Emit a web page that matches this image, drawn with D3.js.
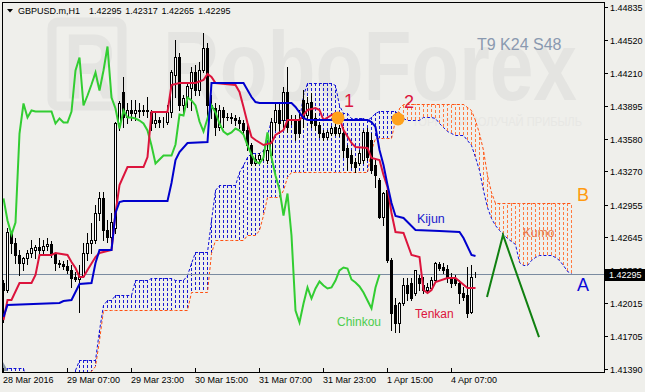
<!DOCTYPE html>
<html><head><meta charset="utf-8">
<script src="https://cdn.jsdelivr.net/npm/d3@7"></script>
<style>body{margin:0;background:#efefeb}svg{display:block}</style>
</head><body>
<svg id="c" width="645" height="392"></svg>
<script>
// ---------- DATA ----------
const symbolText = "GBPUSD.m,H1";
const indicatorText = "T9 K24 S48";
const timeLabels = ["28 Mar 2016","29 Mar 07:00","29 Mar 23:00","30 Mar 15:00","31 Mar 07:00","31 Mar 23:00","1 Apr 15:00","4 Apr 07:00"];
const timeLabelBars = [0,16,32,48,64,80,96,112];
const priceTicks = [1.44835,1.44520,1.44210,1.43895,1.43580,1.43270,1.42955,1.42645,1.42330,1.42015,1.41705,1.41390];
const lastPrice = 1.42295;

const open = [1.42208,1.42141,1.42693,1.42589,1.42474,1.42398,1.42446,1.42493,1.42522,1.42551,
1.42522,1.42560,1.42579,1.42493,1.42398,1.42389,1.42370,1.42332,1.42265,1.42246,
1.42274,1.42493,1.42589,1.42617,1.42874,1.43017,1.42712,1.42646,1.42731,1.43731,
1.44026,1.43788,1.43855,1.43826,1.43855,1.43845,1.43855,1.43836,1.43731,1.43760,
1.43741,1.43741,1.43836,1.44188,1.44359,1.43902,1.43969,1.44064,1.44217,1.44045,
1.44236,1.44445,1.43902,1.43874,1.43693,1.43855,1.43788,1.43788,1.43779,1.43760,
1.43731,1.43664,1.43522,1.43350,1.43388,1.43426,1.43379,1.43426,1.43741,1.43855,
1.43760,1.44026,1.43760,1.43760,1.43760,1.43950,1.43807,1.43931,1.43779,1.43712,
1.43636,1.43598,1.43636,1.43693,1.43636,1.43636,1.43493,1.43426,1.43360,1.43350,
1.43379,1.43645,1.43569,1.43331,1.43188,1.42836,1.43093,1.42427,1.41998,1.41827,
1.42017,1.42189,1.42208,1.42113,1.42255,1.42189,1.42141,1.42160,1.42236,1.42389,
1.42360,1.42341,1.42265,1.42255,1.42208,1.42113,1.42094,1.41932,1.42295];
const high = [1.42236,1.42731,1.42693,1.42636,1.42522,1.42455,1.42522,1.42617,1.42570,1.42636,
1.42617,1.42636,1.42608,1.42493,1.42427,1.42417,1.42427,1.42379,1.42313,1.42379,
1.42589,1.42684,1.42779,1.42950,1.43074,1.43074,1.42808,1.42874,1.43741,1.43940,
1.44169,1.43921,1.43950,1.43950,1.43921,1.43902,1.43979,1.43855,1.43826,1.43788,
1.43788,1.43902,1.44236,1.44521,1.44397,1.43998,1.44102,1.44264,1.44283,1.44312,
1.44588,1.44493,1.43998,1.43921,1.43902,1.43883,1.43826,1.43826,1.43807,1.43788,
1.43760,1.43712,1.43541,1.43426,1.43445,1.43474,1.43522,1.43779,1.43921,1.43931,
1.44074,1.44264,1.43807,1.43807,1.43855,1.44045,1.43979,1.44017,1.43826,1.43741,
1.43664,1.43664,1.43702,1.43731,1.43712,1.43693,1.43522,1.43474,1.43398,1.43474,
1.43664,1.43683,1.43636,1.43379,1.43207,1.43074,1.43122,1.42446,1.42065,1.42027,
1.42255,1.42255,1.42255,1.42332,1.42284,1.42265,1.42208,1.42265,1.42408,1.42408,
1.42398,1.42379,1.42303,1.42284,1.42236,1.42170,1.42360,1.42379,1.42317];
const low = [1.41837,1.42122,1.42493,1.42398,1.42284,1.42332,1.42389,1.42455,1.42446,1.42493,
1.42493,1.42522,1.42455,1.42332,1.42360,1.42341,1.42303,1.42170,1.42227,1.41932,
1.42265,1.42427,1.42493,1.42589,1.42808,1.42617,1.42598,1.42589,1.42684,1.43664,
1.43693,1.43731,1.43760,1.43760,1.43788,1.43807,1.43788,1.43664,1.43693,1.43693,
1.43693,1.43722,1.43788,1.43979,1.43855,1.43826,1.43883,1.43855,1.43998,1.43998,
1.44217,1.43788,1.43779,1.43617,1.43664,1.43693,1.43760,1.43731,1.43712,1.43683,
1.43636,1.43474,1.43331,1.43331,1.43360,1.43379,1.43350,1.43379,1.43664,1.43636,
1.43693,1.43645,1.43722,1.43569,1.43598,1.43693,1.43779,1.43693,1.43664,1.43598,
1.43569,1.43579,1.43617,1.43617,1.43607,1.43407,1.43284,1.43312,1.43265,1.43331,
1.43350,1.43379,1.43255,1.43122,1.42827,1.42760,1.42408,1.41760,1.41741,1.41741,
1.41998,1.42046,1.42046,1.42094,1.42141,1.42113,1.42113,1.42141,1.42217,1.42332,
1.42303,1.42217,1.42170,1.42189,1.42017,1.42046,1.41884,1.41922,1.42265];
const close = [1.42141,1.42693,1.42589,1.42474,1.42398,1.42446,1.42493,1.42541,1.42551,1.42522,
1.42560,1.42579,1.42493,1.42398,1.42389,1.42370,1.42332,1.42255,1.42246,1.42274,
1.42493,1.42589,1.42617,1.42874,1.43017,1.42712,1.42646,1.42789,1.43731,1.43921,
1.43788,1.43855,1.43826,1.43855,1.43845,1.43855,1.43845,1.43731,1.43760,1.43741,
1.43745,1.43836,1.44217,1.44359,1.43902,1.43969,1.44083,1.44217,1.44045,1.44236,
1.44445,1.43902,1.43874,1.43693,1.43855,1.43788,1.43785,1.43779,1.43760,1.43731,
1.43664,1.43522,1.43350,1.43388,1.43426,1.43430,1.43474,1.43741,1.43855,1.43731,
1.44026,1.43693,1.43769,1.43636,1.43636,1.43779,1.43921,1.43731,1.43712,1.43636,
1.43598,1.43645,1.43683,1.43636,1.43683,1.43474,1.43407,1.43350,1.43312,1.43445,
1.43645,1.43407,1.43284,1.43236,1.42836,1.43065,1.42427,1.41922,1.41827,1.42017,
1.42189,1.42113,1.42065,1.42332,1.42208,1.42141,1.42170,1.42236,1.42398,1.42351,
1.42332,1.42265,1.42208,1.42208,1.42113,1.42075,1.41922,1.42265,1.42295];

// Chinkou (lagging span), one value per bar from bar 0
const chinkou = [1.43017,1.42808,1.42674,1.42789,1.43636,1.43921,1.43788,1.43855,1.43845,1.43845,
1.43845,1.43845,1.43845,1.43731,1.43779,1.43741,1.43741,1.43845,1.44236,1.44359,
1.43902,1.43998,1.44102,1.44217,1.44045,1.44236,1.44464,1.43979,1.43874,1.43683,
1.43855,1.43788,1.43788,1.43779,1.43760,1.43731,1.43664,1.43522,1.43350,1.43388,
1.43426,1.43426,1.43426,1.43531,1.43817,1.43807,1.43979,1.43950,1.43902,1.43750,
1.43655,1.43779,1.43902,1.43836,1.43731,1.43655,1.43626,1.43645,1.43683,1.43664,
1.43626,1.43522,1.43436,1.43369,1.43350,1.43407,1.43645,1.43407,1.43236,1.43103,
1.42855,1.43065,1.42665,1.41951,1.41837,1.42017,1.42170,1.42065,1.42160,1.42227,
1.42189,1.42160,1.42170,1.42236,1.42332,1.42360,1.42351,1.42246,1.42217,1.42179,
1.42122,1.42046,1.41970,1.42170,1.42295];

// Tenkan and Kijun: [bar, price] vertices
const tenkan = [[0,1.41856],[1,1.42046],[2,1.42046],[4,1.42208],[7,1.42208],[8,1.42284],[9,1.42474],[12,1.42474],[13,1.42493],[16,1.42474],[17,1.42408],[18,1.42351],[19,1.42265],[20,1.42265],[21,1.42332],[23,1.42455],[24,1.42493],[27,1.42522],[28,1.42874],[29,1.43141],[31,1.43312],[35,1.43312],[36,1.43407],[37,1.43836],[41,1.43836],[42,1.44093],[44,1.44112],[48,1.44112],[50,1.44140],[51,1.44198],[52,1.44169],[53,1.44112],[58,1.44093],[59,1.44026],[60,1.43883],[61,1.43731],[62,1.43598],[63,1.43569],[65,1.43522],[67,1.43541],[68,1.43617],[70,1.43664],[71,1.43760],[74,1.43760],[76,1.43855],[78,1.43874],[79,1.43855],[80,1.43760],[82,1.43807],[83,1.43826],[84,1.43779],[85,1.43664],[87,1.43541],[88,1.43503],[91,1.43493],[92,1.43398],[94,1.43379],[95,1.43236],[96,1.43122],[97,1.42874],[98,1.42693],[100,1.42684],[102,1.42474],[104,1.42455],[105,1.42141],[106,1.42113],[107,1.42141],[108,1.42217],[111,1.42255],[113,1.42255],[116,1.42160],[118,1.42160]];
const kijun = [[0,1.41884],[1,1.41998],[14,1.42017],[15,1.42036],[17,1.42046],[19,1.42198],[22,1.42208],[23,1.42398],[24,1.42522],[27,1.42522],[28,1.42874],[29,1.42979],[30,1.42988],[41,1.42988],[42,1.43160],[43,1.43379],[44,1.43455],[46,1.43541],[51,1.43550],[52,1.44112],[60,1.44112],[61,1.44045],[62,1.43979],[63,1.43931],[64,1.43921],[72,1.43921],[73,1.43883],[75,1.43779],[76,1.43760],[91,1.43760],[92,1.43741],[93,1.43693],[94,1.43474],[95,1.43331],[96,1.43141],[97,1.42969],[98,1.42846],[100,1.42827],[103,1.42712],[109,1.42703],[114,1.42693],[115,1.42636],[117,1.42474],[118,1.42465]];

// Senkou spans, one value per bar from bar 0 (shifted 24 bars ahead)
const senkouA = [1.41399,1.41399,1.41399,1.41399,1.41399,1.41399,1.41250,1.41250,1.41250,1.41250,
1.41250,1.41250,1.41250,1.41250,1.41250,1.41250,1.41250,1.41250,1.41380,1.41475,
1.41475,1.41475,1.41475,1.41475,1.41760,1.41998,1.42046,1.42046,1.42094,1.42094,
1.42094,1.42094,1.42094,1.42236,1.42236,1.42236,1.42236,1.42255,1.42255,1.42255,
1.42255,1.42255,1.42255,1.42236,1.42236,1.42236,1.42284,1.42398,1.42503,1.42503,
1.42503,1.42503,1.42808,1.43093,1.43141,1.43141,1.43141,1.43141,1.43141,1.43265,
1.43331,1.43407,1.43445,1.43445,1.43445,1.43474,1.43617,1.43760,1.43760,1.43760,
1.43760,1.43760,1.43760,1.43760,1.43760,1.43998,1.44112,1.44112,1.44112,1.44112,
1.44112,1.44112,1.44112,1.44093,1.43902,1.43826,1.43826,1.43779,1.43779,1.43779,
1.43779,1.43760,1.43788,1.43826,1.43845,1.43845,1.43845,1.43845,1.43845,1.43807,
1.43779,1.43760,1.43760,1.43760,1.43760,1.43788,1.43788,1.43788,1.43779,1.43731,
1.43693,1.43655,1.43636,1.43617,1.43617,1.43617,1.43569,1.43522,1.43407,1.43284,
1.43093,1.42931,1.42827,1.42760,1.42712,1.42674,1.42636,1.42608,1.42579,1.42408,
1.42379,1.42379,1.42427,1.42455,1.42474,1.42474,1.42474,1.42474,1.42455,1.42427,
1.42379,1.42322,1.42303];
const senkouB = [1.41200,1.41200,1.41200,1.41200,1.41200,1.41200,1.41200,1.41200,1.41200,1.41200,
1.41200,1.41200,1.41200,1.41200,1.41200,1.41200,1.41200,1.41200,1.41200,1.41200,
1.41200,1.41350,1.41370,1.41420,1.41665,1.41951,1.41951,1.41951,1.41951,1.41951,
1.41951,1.41951,1.41951,1.41951,1.41951,1.41951,1.41951,1.41951,1.41951,1.41951,
1.41951,1.41951,1.41951,1.41951,1.41951,1.41951,1.41951,1.42122,1.42122,1.42122,
1.42122,1.42122,1.42493,1.42617,1.42617,1.42617,1.42617,1.42617,1.42617,1.42617,
1.42617,1.42665,1.42665,1.42665,1.42712,1.42855,1.43027,1.43027,1.43027,1.43027,
1.43093,1.43217,1.43265,1.43265,1.43265,1.43265,1.43265,1.43265,1.43265,1.43265,
1.43265,1.43265,1.43265,1.43265,1.43265,1.43265,1.43265,1.43265,1.43265,1.43265,
1.43265,1.43265,1.43474,1.43588,1.43588,1.43588,1.43588,1.43588,1.43760,1.43874,
1.43912,1.43912,1.43912,1.43912,1.43912,1.43912,1.43912,1.43912,1.43912,1.43912,
1.43912,1.43912,1.43912,1.43912,1.43912,1.43912,1.43883,1.43855,1.43760,1.43636,
1.43474,1.43236,1.43074,1.42969,1.42969,1.42969,1.42969,1.42969,1.42969,1.42969,
1.42969,1.42969,1.42969,1.42969,1.42969,1.42969,1.42969,1.42969,1.42969,1.42969,
1.42969,1.42969,1.42969];

// Hand-drawn forecast zigzag and signal markers
const forecast = [[121,1.42075],[125,1.42665],[134,1.41694]];
const markers = [[83.75,1.43779,"1"],[98.75,1.43769,"2"]];

// ---------- CHART ----------
const svg = d3.select("#c");
const font = "'Liberation Sans', Arial, sans-serif";
const x = d3.scaleLinear().domain([0,150]).range([3,603]);
const y = d3.scaleLinear().domain([1.41390,1.44835]).range([369,7]);
const ry = v => Math.round(y(v));

svg.append("rect").attr("width",645).attr("height",392).attr("fill","#efefeb");
svg.append("defs").append("clipPath").attr("id","pc")
  .append("rect").attr("x",3).attr("y",3).attr("width",601).attr("height",369);

// watermark (logo + brand)
const wm = svg.append("g").attr("fill","#e4e4e1").attr("font-family",font).attr("font-weight","bold");
wm.append("rect").attr("x",52).attr("y",22).attr("width",70).attr("height",84).attr("rx",6)
  .attr("fill","none").attr("stroke","#e4e4e1").attr("stroke-width",9);
wm.append("text").attr("x",64).attr("y",98).attr("font-size",92).attr("textLength",52)
  .attr("lengthAdjust","spacingAndGlyphs").text("R");
wm.append("text").attr("x",163).attr("y",100).attr("font-size",98).attr("textLength",414)
  .attr("lengthAdjust","spacingAndGlyphs").text("RoboForex");
svg.append("text").attr("x",412).attr("y",126).attr("font-family",font).attr("font-size",12)
  .attr("textLength",170).attr("lengthAdjust","spacingAndGlyphs")
  .attr("fill","#e7e7e4").text("ТОРГУЙ И ПОЛУЧАЙ ПРИБЫЛЬ");
svg.append("text").attr("x",477).attr("y",50).attr("font-family",font).attr("font-size",16)
  .attr("fill","#8a99b0").text(indicatorText);

const plot = svg.append("g").attr("clip-path","url(#pc)");

// cloud hatch
const cloud = senkouA.map((a,i)=>({i,a,b:senkouB[i]}));
plot.append("g").selectAll("line").data(cloud).join("line")
  .attr("x1",d=>x(d.i)+0.5).attr("x2",d=>x(d.i)+0.5)
  .attr("y1",d=>ry(d.a)).attr("y2",d=>ry(d.b))
  .attr("stroke",d=>d.a>=d.b?"#1a1ad0":"#ff7a40").attr("stroke-width",1)
  .attr("stroke-dasharray","3,2");
const idxLine = d3.line().x((d,i)=>x(i)+0.5).y(d=>ry(d)+0.5);
plot.append("path").attr("d",idxLine(senkouB)).attr("fill","none")
  .attr("stroke","#ff5010").attr("stroke-width",1).attr("stroke-dasharray","3,2");
plot.append("path").attr("d",idxLine(senkouA)).attr("fill","none")
  .attr("stroke","#1010d8").attr("stroke-width",1).attr("stroke-dasharray","3,2");

// last price line
plot.append("line").attr("x1",3).attr("x2",604).attr("y1",ry(lastPrice)+0.5).attr("y2",ry(lastPrice)+0.5)
  .attr("stroke","#7a8ba0").attr("stroke-width",1);

// candles
const bars = close.map((c,i)=>({i,o:open[i],h:high[i],l:low[i],c}));
const cg = plot.append("g");
cg.selectAll("line").data(bars).join("line")
  .attr("x1",d=>x(d.i)+0.5).attr("x2",d=>x(d.i)+0.5)
  .attr("y1",d=>ry(d.h)).attr("y2",d=>ry(d.l)+1)
  .attr("stroke","#000").attr("stroke-width",1);
cg.selectAll("rect.bear").data(bars.filter(d=>d.c<d.o)).join("rect").attr("class","bear")
  .attr("x",d=>x(d.i)-1).attr("y",d=>ry(d.o))
  .attr("width",3).attr("height",d=>Math.max(1,ry(d.c)-ry(d.o)+1)).attr("fill","#000");
cg.selectAll("rect.bull").data(bars.filter(d=>d.c>=d.o)).join("rect").attr("class","bull")
  .attr("x",d=>x(d.i)-0.5).attr("y",d=>ry(d.c)+0.5)
  .attr("width",2).attr("height",d=>Math.max(0,ry(d.o)-ry(d.c)))
  .attr("fill","#fff").attr("stroke","#000").attr("stroke-width",1);

// chinkou, tenkan, kijun
plot.append("path").attr("d",idxLine(chinkou)).attr("fill","none")
  .attr("stroke","#32cd32").attr("stroke-width",2);
const ptLine = d3.line().x(d=>x(d[0])+0.5).y(d=>ry(d[1]));
plot.append("path").attr("d",ptLine(tenkan)).attr("fill","none")
  .attr("stroke","#dc143c").attr("stroke-width",2);
plot.append("path").attr("d",ptLine(kijun)).attr("fill","none")
  .attr("stroke","#0000cd").attr("stroke-width",2);

// forecast zigzag
plot.append("path").attr("d",d3.line().x(d=>x(d[0])).y(d=>y(d[1]))(forecast)).attr("fill","none")
  .attr("stroke","#108010").attr("stroke-width",2);

// markers
markers.forEach(m=>{
  plot.append("circle").attr("cx",x(m[0])).attr("cy",y(m[1])).attr("r",6.5).attr("fill","#ffa21c");
  svg.append("text").attr("x",x(m[0])+6).attr("y",y(m[1])-11).attr("font-family",font)
    .attr("font-size",18).attr("fill","#dc143c").text(m[2]);
});

// labels
const lab = (t,xx,yy,size,col)=>svg.append("text").attr("x",xx).attr("y",yy).attr("font-family",font)
  .attr("font-size",size).attr("fill",col).text(t);
lab("Kijun",417,223,12.5,"#1a1acd");
lab("Tenkan",415,318,12,"#dc143c");
lab("Chinkou",337,326,12,"#4ccd4c");
lab("Kumo",523,237,12,"#e87a4a");
lab("B",577,201,18,"#ff9a10");
lab("A",577,291,18,"#0a0ad8");

// frame
svg.append("rect").attr("x",2.5).attr("y",2.5).attr("width",602).attr("height",370)
  .attr("fill","none").attr("stroke","#000").attr("stroke-width",1);
svg.append("path").attr("d","M3,362L8,371L3,371Z").attr("fill","#8a97a6");

// right axis
const ax = svg.append("g");
ax.selectAll("line").data(priceTicks).join("line")
  .attr("x1",605).attr("x2",608).attr("y1",d=>ry(d)+0.5).attr("y2",d=>ry(d)+0.5).attr("stroke","#000");
ax.selectAll("text").data(priceTicks).join("text")
  .attr("x",610).attr("y",d=>ry(d)+3.5).attr("font-family",font).attr("font-size",9)
  .attr("fill","#000").text(d=>d3.format(".5f")(d));
svg.append("rect").attr("x",605).attr("y",ry(lastPrice)-5).attr("width",40).attr("height",12).attr("fill","#000");
svg.append("text").attr("x",609).attr("y",ry(lastPrice)+4).attr("font-family",font).attr("font-size",9)
  .attr("fill","#fff").text(d3.format(".5f")(lastPrice));

// bottom axis
const bx = svg.append("g");
bx.selectAll("line").data(timeLabelBars).join("line")
  .attr("x1",d=>x(d)+0.5).attr("x2",d=>x(d)+0.5).attr("y1",368).attr("y2",372).attr("stroke","#000");
bx.selectAll("text").data(timeLabelBars).join("text")
  .attr("x",d=>x(d)).attr("y",383).attr("font-family",font).attr("font-size",9)
  .attr("fill","#000").text((d,i)=>timeLabels[i]);

// header
svg.append("path").attr("d","M7,9L13,9L10,12.5Z").attr("fill","#000");
svg.append("text").attr("x",18).attr("y",14).attr("font-family",font).attr("font-size",9)
  .attr("fill","#000").text(symbolText);
const last = close.length-1;
const hdr = [open[last],high[last],low[last],close[last]];
svg.append("g").selectAll("text").data(hdr).join("text")
  .attr("x",(d,i)=>89+i*36.3).attr("y",14).attr("font-family",font).attr("font-size",9)
  .attr("fill","#000").text(d=>d3.format(".5f")(d));
</script>
</body></html>
